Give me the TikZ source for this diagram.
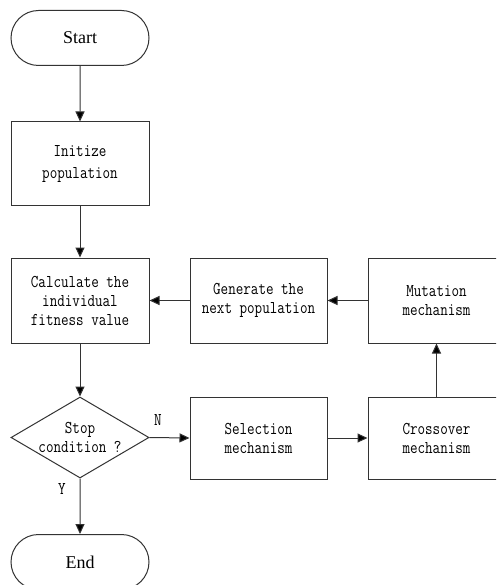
\documentclass[tikz,border=0pt]{standalone}
\usepackage{fontspec}
\setmainfont{Liberation Serif}
\newfontfamily\monof[FakeStretch=0.815]{Latin Modern Mono}
\usetikzlibrary{shapes.geometric,shapes.misc,arrows.meta}
\begin{document}
\begin{tikzpicture}[x=1pt,y=-1pt,
  ln/.style={draw=black!80, line width=1pt},
  box/.style={rectangle, ln, minimum width=137pt, minimum height=83pt, inner sep=0pt, align=center, font=\monof\fontsize{18}{19}\selectfont},
  term/.style={rounded rectangle, ln, minimum width=138pt, minimum height=55pt, inner sep=0pt, font=\fontsize{18}{20}\selectfont},
  dia/.style={diamond, ln, minimum width=138pt, minimum height=81pt, inner sep=0pt},
  txt/.style={inner sep=0pt, align=center, font=\monof\fontsize{18}{19}\selectfont},
  arr/.style={ln, -{Triangle[length=10pt,width=9pt,fill=black]}},
]
\fill[white] (0,0) rectangle (496,585);
\useasboundingbox (0,0) rectangle (496,585);
\clip (0,0) rectangle (496,585);

\node[term] (start) at (80,38) {Start};
\node[box, minimum width=138pt, font=\monof\fontsize{18}{22}\selectfont] (init) at (80,163.5) {Initize\\population};
\node[box, minimum width=138pt, minimum height=85pt] (calc) at (80,300.5) {Calculate the\\individual\\fitness value};
\node[box, minimum height=85pt] (gen) at (258.5,300.5) {Generate the\\next population};
\node[box, minimum height=85pt] (mut) at (436.5,300.5) {Mutation\\mechanism};
\node[dia] (stop) at (80,437.5) {};
\node[txt] (stoptxt) at (80,437.5) {Stop\\condition ?};
\node[box, minimum height=82pt] (sel) at (258.5,438) {Selection\\mechanism};
\node[box, minimum height=82pt] (cross) at (436.5,438) {Crossover\\mechanism};
\node[term] (end) at (80,562) {End};

\draw[arr] (start) -- (init);
\draw[arr] (init) -- (calc);
\draw[arr] (calc) -- (stop);
\draw[arr] (stop) -- (end);
\draw[arr] (stop.east) -- (sel.west);
\draw[arr] (sel) -- (cross);
\draw[arr] (cross) -- (mut);
\draw[arr] (mut) -- (gen);
\draw[arr] (gen) -- (calc);

\node[txt] (nlab) at (158,420) {N};
\node[txt] (ylab) at (62,489) {Y};
\end{tikzpicture}
\end{document}
